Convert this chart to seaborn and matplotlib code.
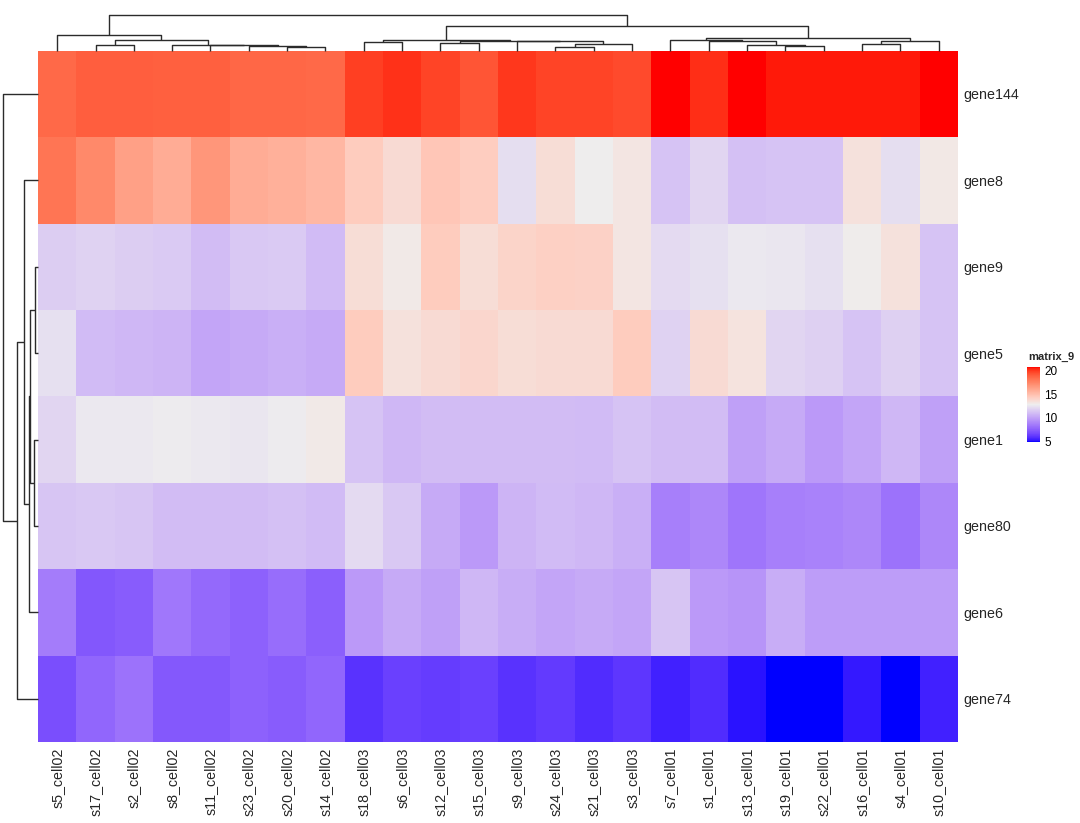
import numpy as np
import pandas as pd
import matplotlib
matplotlib.use("Agg")
import matplotlib.pyplot as plt
from matplotlib.colors import ListedColormap
import seaborn as sns

# ---------------- data ----------------
samples = ["s5_cell02", "s17_cell02", "s2_cell02", "s8_cell02", "s11_cell02", "s23_cell02",
           "s20_cell02", "s14_cell02", "s18_cell03", "s6_cell03", "s12_cell03", "s15_cell03",
           "s9_cell03", "s24_cell03", "s21_cell03", "s3_cell03", "s7_cell01", "s1_cell01",
           "s13_cell01", "s19_cell01", "s22_cell01", "s16_cell01", "s4_cell01", "s10_cell01"]
genes = ["gene144", "gene8", "gene9", "gene5", "gene1", "gene80", "gene6", "gene74"]

gene144 = [18.5, 18.9, 18.9, 18.8, 18.8, 18.6, 18.6, 18.5, 19.8, 20.1, 19.7, 19.2,
           20.0, 19.7, 19.7, 19.5, 20.7, 20.2, 20.7, 20.5, 20.5, 20.5, 20.5, 20.7]
gene8 = [18.1, 17.3, 16.3, 15.8, 16.7, 15.8, 15.6, 15.3, 14.4, 13.7, 14.6, 14.3,
         12.2, 13.6, 12.8, 13.2, 11.2, 11.9, 11.1, 11.2, 11.2, 13.4, 12.2, 13.1]
gene9 = [11.6, 11.8, 11.6, 11.5, 11.0, 11.4, 11.5, 10.9, 13.6, 13.0, 14.4, 13.6,
         14.0, 14.2, 14.1, 13.2, 12.1, 12.3, 12.6, 12.5, 12.3, 12.9, 13.4, 11.2]
gene5 = [12.3, 10.9, 10.8, 10.7, 10.1, 10.3, 10.5, 10.3, 14.4, 13.4, 13.7, 13.9,
         13.6, 13.7, 13.7, 14.4, 11.8, 13.7, 13.3, 11.9, 11.7, 11.2, 11.7, 11.2]
gene1 = [11.9, 12.6, 12.6, 12.7, 12.6, 12.5, 12.7, 13.0, 11.2, 10.8, 11.0, 11.0,
         11.0, 11.0, 10.9, 11.2, 11.0, 11.0, 9.9, 10.3, 9.7, 10.1, 10.8, 9.9]
gene80 = [11.3, 11.4, 11.3, 11.0, 11.0, 11.0, 11.1, 10.9, 12.1, 11.4, 10.3, 9.7,
          10.7, 10.9, 10.8, 10.5, 8.7, 9.0, 8.3, 8.7, 8.8, 9.0, 8.2, 9.0]
gene6 = [8.6, 7.2, 7.4, 8.4, 7.9, 7.6, 8.0, 7.5, 9.7, 10.3, 9.9, 10.8,
         10.4, 10.1, 10.3, 10.1, 11.3, 9.7, 9.5, 10.4, 9.8, 9.8, 9.8, 9.8]
gene74 = [6.9, 7.8, 8.2, 7.3, 7.3, 7.6, 7.4, 7.8, 6.0, 6.4, 6.3, 6.4,
          6.0, 6.2, 5.8, 6.1, 5.5, 5.8, 5.2, 4.9, 4.9, 5.3, 4.9, 5.5]

# column dendrogram (linkage style: ids < 24 are columns, 24+k is the k-th merge)
col_left = [6, 5, 4, 3, 1, 28, 0, 13, 31, 12, 10, 34, 8, 36, 19, 18, 17, 16, 21, 42, 41, 37, 30]
col_right = [7, 24, 25, 26, 2, 27, 29, 14, 15, 32, 11, 33, 9, 35, 20, 38, 39, 40, 22, 23, 43, 44, 45]
col_height = [3.3, 4.3, 5.6, 5.9, 6.0, 10.3, 16.0, 4.0, 7.0, 9.3, 8.0, 9.7, 9.0, 10.3,
              5.0, 6.0, 9.3, 11.0, 7.0, 9.3, 12.3, 24.3, 35.3]

# row dendrogram (ids < 8 are rows, 8+k is the k-th merge)
row_left = [2, 4, 8, 10, 1, 12, 0]
row_right = [3, 5, 9, 6, 11, 7, 13]
row_height = [3.0, 3.7, 7.7, 8.7, 14.0, 20.7, 35.0]

legend_title = "matrix_9"
col_breaks = [4.9, 12.8, 20.7]
legend_ticks = [5, 10, 15, 20]

# ---------------- colour map (LAB interpolation like colorRamp2) ----------------
WHITE = np.array([0.95047, 1.0, 1.08883])
M = np.array([[0.4124564, 0.3575761, 0.1804375],
              [0.2126729, 0.7151522, 0.0721750],
              [0.0193339, 0.1191920, 0.9503041]])


def rgb2lab(rgb):
    c = np.asarray(rgb, float)
    lin = np.where(c <= 0.04045, c / 12.92, ((c + 0.055) / 1.055) ** 2.4)
    xyz = M @ lin / WHITE
    d = 6 / 29
    f = np.where(xyz > d ** 3, np.cbrt(xyz), xyz / (3 * d * d) + 4 / 29)
    return np.array([116 * f[1] - 16, 500 * (f[0] - f[1]), 200 * (f[1] - f[2])])


def lab2rgb(lab):
    L, a, b = lab
    fy = (L + 16) / 116
    fx = fy + a / 500
    fz = fy - b / 200
    d = 6 / 29
    f = np.array([fx, fy, fz])
    xyz = np.where(f > d, f ** 3, 3 * d * d * (f - 4 / 29)) * WHITE
    lin = np.linalg.solve(M, xyz)
    lin = np.clip(lin, 0, 1)
    c = np.where(lin <= 0.0031308, 12.92 * lin, 1.055 * lin ** (1 / 2.4) - 0.055)
    return np.clip(c, 0, 1)


anchors = [rgb2lab([0, 0, 1]), rgb2lab([0xEE / 255] * 3), rgb2lab([1, 0, 0])]
vals = np.linspace(col_breaks[0], col_breaks[2], 256)
colors = []
for v in vals:
    if v <= col_breaks[1]:
        t = (v - col_breaks[0]) / (col_breaks[1] - col_breaks[0])
        lab = anchors[0] * (1 - t) + anchors[1] * t
    else:
        t = (v - col_breaks[1]) / (col_breaks[2] - col_breaks[1])
        lab = anchors[1] * (1 - t) + anchors[2] * t
    colors.append(lab2rgb(lab))
cmap = ListedColormap(colors)

# ---------------- figure ----------------
sns.set_style("white")
plt.rcParams["font.family"] = ["Liberation Sans", "DejaVu Sans"]

W, H = 1080, 823
fig = plt.figure(figsize=(W / 100, H / 100), dpi=100)


def fax(x0, y0, x1, y1):
    return fig.add_axes([x0 / W, 1 - y1 / H, (x1 - x0) / W, (y1 - y0) / H])


hx0, hx1, hy0, hy1 = 38, 958, 50.7, 742
ax = fax(hx0, hy0, hx1, hy1)
cax = fax(1027, 367, 1040, 442)

df = pd.DataFrame([gene144, gene8, gene9, gene5, gene1, gene80, gene6, gene74],
                  index=genes, columns=samples)
sns.heatmap(df, ax=ax, cmap=cmap, vmin=col_breaks[0], vmax=col_breaks[2],
            cbar=True, cbar_ax=cax, xticklabels=True, yticklabels=True,
            linewidths=0)

ax.yaxis.tick_right()
ax.set_yticklabels(genes, rotation=0, fontsize=10.3, ha="left")
ax.set_xticklabels(samples, rotation=90, fontsize=10.3)
ax.tick_params(axis="both", length=0, pad=4)
ax.set_xlabel("")
ax.set_ylabel("")

# colour bar legend
cb = ax.collections[0].colorbar
cb.outline.set_visible(False)
cb.set_ticks(legend_ticks)
cax.tick_params(axis="y", which="both", direction="in", length=2.5, width=0.8,
                colors="white", labelcolor="black", labelsize=8.5, pad=3,
                left=True, right=True)
fig.text(1028 / W, 1 - 357 / H, legend_title, fontsize=8, fontweight="bold",
         ha="left", va="center")

LINE = dict(color="#2b2b2b", lw=1.0, clip_on=False, solid_capstyle="butt")


def tree_coords(n_leaves, left, right, height):
    pos = {i: i + 0.5 for i in range(n_leaves)}
    hgt = {i: 0.0 for i in range(n_leaves)}
    segs = []
    for k, (a, b, h) in enumerate(zip(left, right, height)):
        nid = n_leaves + k
        segs.append(((pos[a], hgt[a]), (pos[a], h), (pos[b], h), (pos[b], hgt[b])))
        pos[nid] = (pos[a] + pos[b]) / 2
        hgt[nid] = h
    return segs


# column dendrogram
dax = fax(hx0, 15.3, hx1, hy0)
for seg in tree_coords(len(samples), col_left, col_right, col_height):
    xs = [p[0] for p in seg]
    ys = [p[1] for p in seg]
    dax.plot(xs, ys, **LINE)
dax.set_xlim(0, len(samples))
dax.set_ylim(0, max(col_height))
dax.axis("off")

# row dendrogram
rax = fax(3, hy0, hx0, hy1)
for seg in tree_coords(len(genes), row_left, row_right, row_height):
    ys = [p[0] for p in seg]
    xs = [p[1] for p in seg]
    rax.plot(xs, ys, **LINE)
rax.set_ylim(len(genes), 0)
rax.set_xlim(max(row_height), 0)
rax.axis("off")

fig.savefig("out.png", dpi=100, facecolor="white")
